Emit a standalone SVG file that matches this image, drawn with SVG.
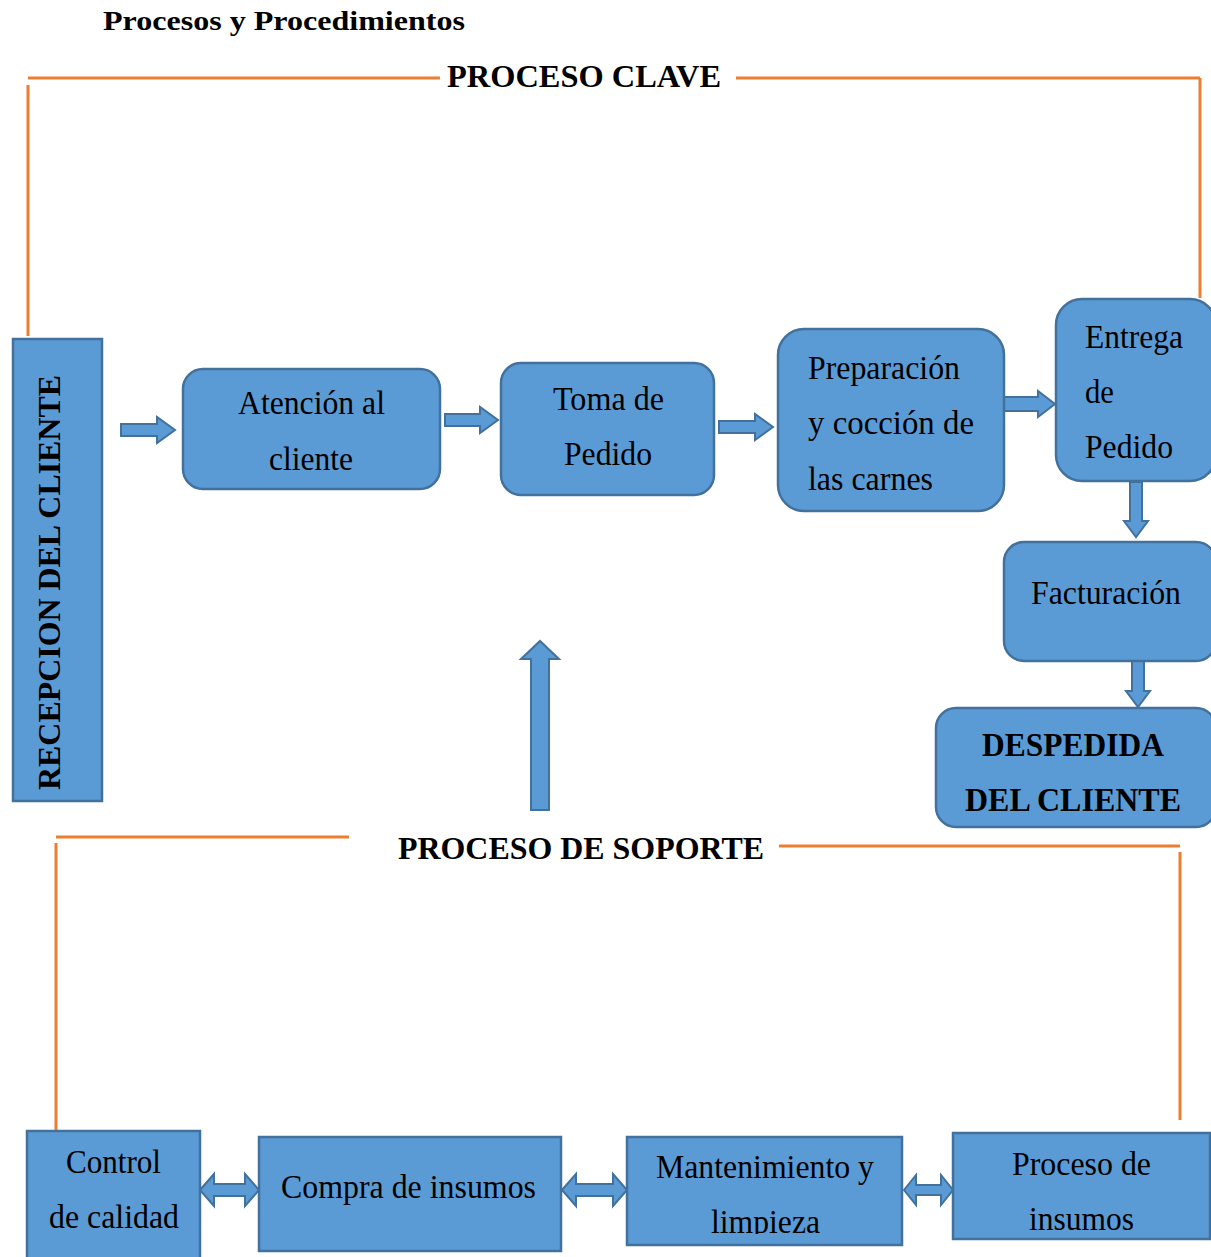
<svg xmlns="http://www.w3.org/2000/svg" width="1211" height="1257" viewBox="0 0 1211 1257">
<style>
.box{fill:#5B9BD5;stroke:#41719C;stroke-width:2.5}
.arr{fill:#5B9BD5;stroke:#41719C;stroke-width:2}
.or{stroke:#ED7D31;stroke-width:3;fill:none}
.t{font-family:'Liberation Serif',Tinos,'Times New Roman',Times,'Nimbus Roman',serif;font-size:33px;fill:#000}
.b{font-family:'Liberation Serif',Tinos,'Times New Roman',Times,'Nimbus Roman',serif;font-weight:bold;fill:#000}
</style>
<defs>
<clipPath id="c1"><rect x="0" y="0" width="1211" height="1234"/></clipPath>
<clipPath id="c2"><rect x="0" y="0" width="1211" height="1230"/></clipPath>
</defs>
<rect width="1211" height="1257" fill="#fff"/>
<text class="b" x="103" y="30" font-size="28" textLength="362" lengthAdjust="spacingAndGlyphs">Procesos y Procedimientos</text>
<g id="frame-clave">
<line class="or" x1="28" y1="78" x2="440" y2="78"/>
<line class="or" x1="28" y1="85" x2="28" y2="336"/>
<line class="or" x1="736" y1="78" x2="1200" y2="78"/>
<line class="or" x1="1200" y1="78" x2="1200" y2="298"/>
<text class="b" x="447" y="87" font-size="32" textLength="274" lengthAdjust="spacingAndGlyphs">PROCESO CLAVE</text>
</g>
<g id="frame-soporte">
<line class="or" x1="56" y1="837" x2="349" y2="837"/>
<line class="or" x1="56" y1="843" x2="56" y2="1130"/>
<line class="or" x1="779" y1="846" x2="1180" y2="846"/>
<line class="or" x1="1180" y1="852" x2="1180" y2="1120"/>
<text class="b" x="398" y="859" font-size="32" textLength="366" lengthAdjust="spacingAndGlyphs">PROCESO DE SOPORTE</text>
</g>
<g id="connectors">
<polygon class="arr" points="121,424 157,424 157,417 175,430 157,443 157,436 121,436"/>
<polygon class="arr" points="445,414 480,414 480,407 498,420 480,433 480,426 445,426"/>
<polygon class="arr" points="719,421 755,421 755,414 773,427 755,440 755,433 719,433"/>
<polygon class="arr" points="1004,397 1038,397 1038,391 1055,404 1038,417 1038,411 1004,411"/>
<polygon class="arr" points="1130,482 1142,482 1142,521 1148,521 1136,537 1124,521 1130,521"/>
<polygon class="arr" points="1132,661 1144,661 1144,691 1150,691 1138,707 1126,691 1132,691"/>
<polygon class="arr" points="531,810 549,810 549,659 559,659 540,641 521,659 531,659"/>
<polygon class="arr" points="200,1190 214,1174 214,1184 245,1184 245,1174 259,1190 245,1206 245,1196 214,1196 214,1206"/>
<polygon class="arr" points="562,1190 576,1174 576,1184 613,1184 613,1174 627,1190 613,1206 613,1196 576,1196 576,1206"/>
<polygon class="arr" points="904,1190 916,1175 916,1185 941,1185 941,1175 953,1190 941,1205 941,1195 916,1195 916,1205"/>
</g>
<g id="recepcion">
<rect class="box" x="13" y="339" width="89" height="462"/>
<text class="b" font-size="31" transform="translate(60,790) rotate(-90)" textLength="415" lengthAdjust="spacingAndGlyphs">RECEPCION DEL CLIENTE</text>
</g>
<g id="atencion">
<rect class="box" x="183" y="369" width="257" height="120" rx="20"/>
<text class="t" x="238" y="414" textLength="147" lengthAdjust="spacingAndGlyphs">Atención al</text>
<text class="t" x="269" y="470" textLength="84" lengthAdjust="spacingAndGlyphs">cliente</text>
</g>
<g id="toma">
<rect class="box" x="501" y="363" width="213" height="132" rx="20"/>
<text class="t" x="553" y="410" textLength="111" lengthAdjust="spacingAndGlyphs">Toma de</text>
<text class="t" x="564" y="465" textLength="88" lengthAdjust="spacingAndGlyphs">Pedido</text>
</g>
<g id="preparacion">
<rect class="box" x="778" y="329" width="226" height="182" rx="26"/>
<text class="t" x="808" y="379" textLength="152" lengthAdjust="spacingAndGlyphs">Preparación</text>
<text class="t" x="808" y="434" textLength="166" lengthAdjust="spacingAndGlyphs">y cocción de</text>
<text class="t" x="808" y="490" textLength="125" lengthAdjust="spacingAndGlyphs">las carnes</text>
</g>
<g id="entrega">
<rect class="box" x="1056" y="299" width="160" height="182" rx="26"/>
<text class="t" x="1085" y="348" textLength="98" lengthAdjust="spacingAndGlyphs">Entrega</text>
<text class="t" x="1085" y="403" textLength="29" lengthAdjust="spacingAndGlyphs">de</text>
<text class="t" x="1085" y="458" textLength="88" lengthAdjust="spacingAndGlyphs">Pedido</text>
</g>
<g id="facturacion">
<rect class="box" x="1004" y="542" width="212" height="119" rx="20"/>
<text class="t" x="1031" y="604" textLength="150" lengthAdjust="spacingAndGlyphs">Facturación</text>
</g>
<g id="despedida">
<rect class="box" x="936" y="708" width="280" height="119" rx="20"/>
<text class="b" font-size="33" x="982" y="756" textLength="182" lengthAdjust="spacingAndGlyphs">DESPEDIDA</text>
<text class="b" font-size="33" x="965" y="811" textLength="216" lengthAdjust="spacingAndGlyphs">DEL CLIENTE</text>
</g>
<g id="control">
<rect class="box" x="27" y="1131" width="173" height="130"/>
<text class="t" x="66" y="1173" textLength="95" lengthAdjust="spacingAndGlyphs">Control</text>
<text class="t" x="49" y="1228" textLength="130" lengthAdjust="spacingAndGlyphs">de calidad</text>
</g>
<g id="compra">
<rect class="box" x="259" y="1137" width="302" height="114"/>
<text class="t" x="281" y="1198" textLength="255" lengthAdjust="spacingAndGlyphs">Compra de insumos</text>
</g>
<g id="mantenimiento">
<rect class="box" x="627" y="1137" width="275" height="108"/>
<text class="t" x="656" y="1178" textLength="218" lengthAdjust="spacingAndGlyphs">Mantenimiento y</text>
<text class="t" x="711" y="1233" textLength="109" lengthAdjust="spacingAndGlyphs" clip-path="url(#c1)">limpieza</text>
</g>
<g id="proceso-insumos">
<rect class="box" x="953" y="1133" width="257" height="106"/>
<text class="t" x="1012" y="1175" textLength="139" lengthAdjust="spacingAndGlyphs">Proceso de</text>
<text class="t" x="1029" y="1230" textLength="105" lengthAdjust="spacingAndGlyphs" clip-path="url(#c2)">insumos</text>
</g>
</svg>
